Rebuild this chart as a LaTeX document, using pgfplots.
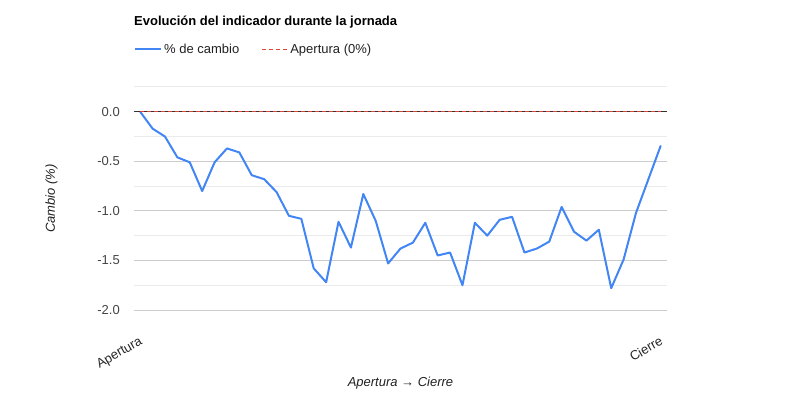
\documentclass[border=0pt]{standalone}
\usepackage{pgfplots}
\pgfplotsset{compat=1.18}
\usepackage{pgfplotstable}
\usepackage{fontspec}
\setmainfont{Liberation Sans}
\definecolor{cblue}{HTML}{4285F4}
\definecolor{cred}{HTML}{DB4437}
\definecolor{ticktext}{HTML}{444444}
\definecolor{majorg}{HTML}{CCCCCC}
\definecolor{minorg}{HTML}{EBEBEB}
\definecolor{zeroline}{HTML}{333333}

\pgfplotstableread{
x y
0 0.00
1 -0.17
2 -0.25
3 -0.46
4 -0.51
5 -0.80
6 -0.51
7 -0.37
8 -0.41
9 -0.64
10 -0.68
11 -0.81
12 -1.05
13 -1.08
14 -1.58
15 -1.72
16 -1.11
17 -1.37
18 -0.83
19 -1.10
20 -1.53
21 -1.38
22 -1.32
23 -1.12
24 -1.45
25 -1.42
26 -1.75
27 -1.12
28 -1.25
29 -1.09
30 -1.06
31 -1.42
32 -1.38
33 -1.31
34 -0.96
35 -1.21
36 -1.30
37 -1.19
38 -1.78
39 -1.49
40 -1.02
41 -0.68
42 -0.34
}\datatable

\begin{document}
\begin{tikzpicture}
\useasboundingbox (0,0) rectangle (800bp,400bp);
\begin{axis}[
  at={(134bp,90bp)}, anchor=south west,
  scale only axis, width=533bp, height=223bp,
  xmin=-0.5, xmax=42.5, ymin=-2, ymax=0.25,
  axis line style={draw=none},
  tick style={draw=none},
  font=\fontsize{13bp}{15bp}\selectfont,
  ytick={-2,-1.5,-1,-0.5},
  yticklabels={-2.0,-1.5,-1.0,-0.5},
  minor ytick={-1.75,-1.25,-0.75,-0.25,0.25},
  ymajorgrids, yminorgrids,
  major grid style={majorg, line width=1bp},
  minor grid style={minorg, line width=1bp},
  extra y ticks={0}, extra y tick labels={0.0},
  extra y tick style={major grid style={zeroline, line width=1bp}},
  yticklabel style={text=ticktext, anchor=east, inner sep=0pt, xshift=-14bp},
  xtick={0,42}, xticklabels={Apertura,Cierre},
  xticklabel style={text=black!85, rotate=30, anchor=north east, inner sep=0pt, xshift=-14.3bp, yshift=-21.3bp},
  ylabel={Cambio (\%)},
  ylabel style={font=\fontsize{13bp}{15bp}\selectfont\itshape, text=black!87, at={(axis description cs:-0.155,0.5)}, anchor=center},
  xlabel={Apertura → Cierre},
  xlabel style={font=\fontsize{13bp}{15bp}\selectfont\itshape, text=black!87, at={(axis description cs:0.5,-0.327)}, anchor=center},
  title={Evolución del indicador durante la jornada},
  title style={font=\fontsize{13bp}{15bp}\selectfont\bfseries, at={(axis description cs:0,1.265)}, anchor=west, inner sep=0pt},
  legend columns=2,
  legend style={at={(axis description cs:0,1.17)}, anchor=west, draw=none, fill=none, inner sep=0pt,
    font=\fontsize{13bp}{15bp}\selectfont, text=black!87,
    /tikz/every even column/.append style={column sep=20bp}},
  legend image code/.code={\draw[#1] (0bp,0bp) -- (26bp,0bp);},
]
\addplot[cblue, line width=2bp, line join=round] table[x=x,y=y]{\datatable};
\addlegendentry{\% de cambio}
\addplot[cred, line width=1bp, dash pattern=on 4bp off 3bp] coordinates {(0,0) (42,0)};
\addlegendentry{Apertura (0\%)}
\end{axis}
\end{tikzpicture}
\end{document}
